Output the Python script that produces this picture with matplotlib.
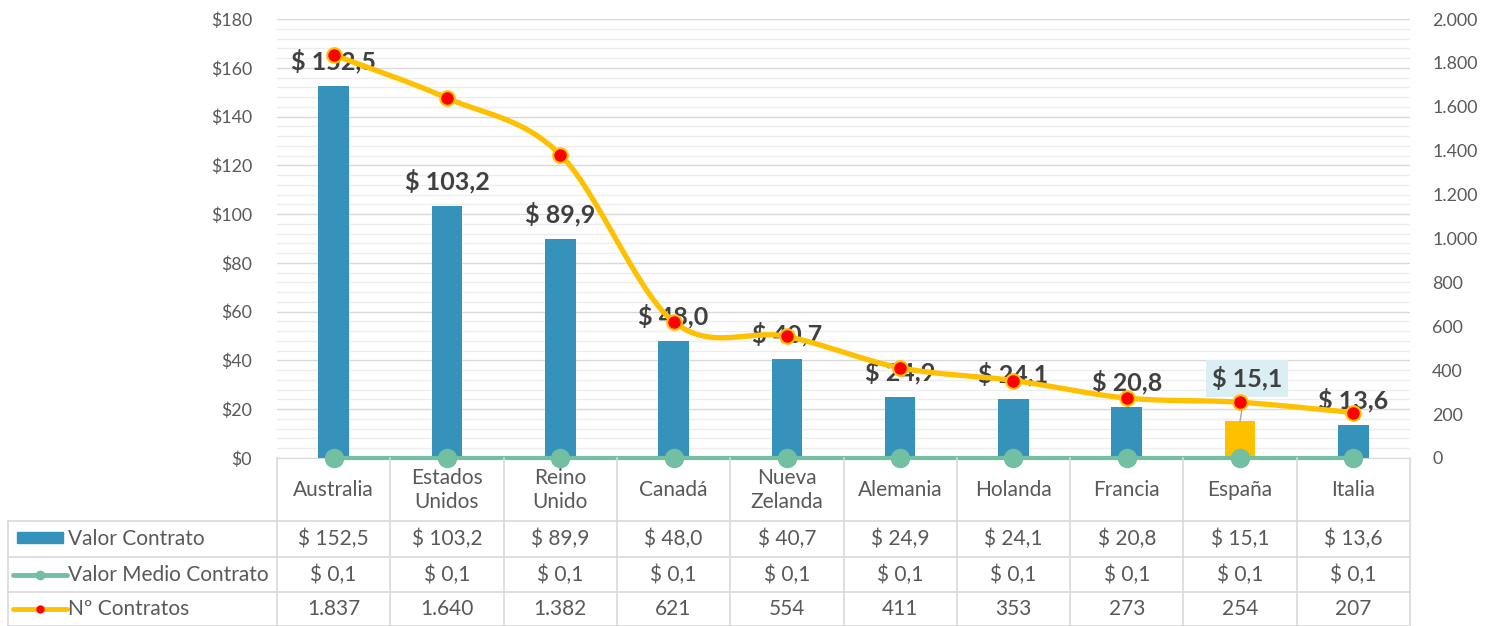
import numpy as np
import matplotlib
matplotlib.use("Agg")
import matplotlib.pyplot as plt
from matplotlib.patches import Rectangle

plt.rcParams['font.family'] = ['Lato', 'DejaVu Sans']

categories = ["Australia", "Estados\nUnidos", "Reino\nUnido", "Canadá", "Nueva\nZelanda",
              "Alemania", "Holanda", "Francia", "España", "Italia"]
valor_contrato = [152.5, 103.2, 89.9, 48.0, 40.7, 24.9, 24.1, 20.8, 15.1, 13.6]
valor_medio = [0.1, 0.1, 0.1, 0.1, 0.1, 0.1, 0.1, 0.1, 0.1, 0.1]
n_contratos = [1837, 1640, 1382, 621, 554, 411, 353, 273, 254, 207]
series_names = ["Valor Contrato", "Valor Medio Contrato", "Nº Contratos"]
highlight = "España"

BLUE = "#3592BB"
ORANGE = "#FFC000"
GREEN = "#72BFA2"
RED = "#FF0000"
GRID = "#D9D9D9"
MINOR = "#EDEDED"
TXT = "#595959"
LBL = "#404040"

W, H = 1491, 626
fig = plt.figure(figsize=(W / 100, H / 100), dpi=100)
L, R, T, B = 277, 1410, 19, 458
ax = fig.add_axes([L / W, 1 - B / H, (R - L) / W, (B - T) / H])
ax2 = ax.twinx()

n = len(categories)
x = np.arange(n)
colors = [ORANGE if c == highlight else BLUE for c in categories]
ax.bar(x, valor_contrato, width=0.27, color=colors, zorder=2)

ax.plot(x, valor_medio, color=GREEN, lw=3, marker='o', ms=13, mfc=GREEN, mec=GREEN,
        zorder=4, clip_on=False)

# data labels
for i, v in enumerate(valor_contrato):
    txt = "$ " + f"{v:.1f}".replace('.', ',')
    if categories[i] == highlight:
        ax.annotate(txt, (i, v), xytext=(5, 22), textcoords='offset points',
                    ha='center', va='bottom', fontsize=18, fontweight='bold', color=LBL,
                    bbox=dict(boxstyle='square,pad=0.25', fc='#DAEEF3', ec='none'),
                    arrowprops=dict(arrowstyle='-', color='#A6A6A6', lw=1,
                                    shrinkA=0, shrinkB=0), zorder=3)
    else:
        ax.annotate(txt, (i, v), xytext=(0, 9), textcoords='offset points',
                    ha='center', va='bottom', fontsize=18, fontweight='bold', color=LBL,
                    zorder=3)

ax.set_xlim(-0.5, n - 0.5)
ax.set_ylim(0, 180)
ax.set_yticks(np.arange(0, 181, 20))
ax.set_yticks(np.arange(0, 181, 4), minor=True)
ax.set_yticklabels([f"${int(t)}" for t in np.arange(0, 181, 20)])
ax.grid(axis='y', which='major', color=GRID, lw=1, zorder=0)
ax.grid(axis='y', which='minor', color=MINOR, lw=1, zorder=0)
ax.set_axisbelow(True)
ax.set_xticks([])
ax.tick_params(axis='y', which='both', length=0, pad=18, labelsize=12.8, labelcolor=TXT)
for s in ['top', 'left', 'right']:
    ax.spines[s].set_visible(False)
ax.spines['bottom'].set_color(GRID)

# smooth line (Catmull-Rom rendering between the data points)
xs = x.astype(float)
ys = np.array(n_contratos, dtype=float)
px, py = [], []
for i in range(n - 1):
    m0 = (ys[i + 1] - ys[i - 1]) / 2 if i > 0 else (ys[i + 1] - ys[i])
    m1 = (ys[i + 2] - ys[i]) / 2 if i < n - 2 else (ys[i + 1] - ys[i])
    t = np.linspace(0, 1, 30)
    h00 = 2 * t**3 - 3 * t**2 + 1
    h10 = t**3 - 2 * t**2 + t
    h01 = -2 * t**3 + 3 * t**2
    h11 = t**3 - t**2
    px.extend(xs[i] + t)
    py.extend(h00 * ys[i] + h10 * m0 + h01 * ys[i + 1] + h11 * m1)
ax2.plot(px, py, color=ORANGE, lw=3.8, solid_capstyle='round', zorder=3)
ax2.plot(xs, ys, ls='none', marker='o', ms=10.5, mfc=RED, mec=ORANGE, mew=1.5, zorder=4)
ax2.set_ylim(0, 2000)
ax2.set_yticks(np.arange(0, 2001, 200))
ax2.set_yticklabels([f"{int(t):,}".replace(',', '.') for t in np.arange(0, 2001, 200)])
ax2.tick_params(axis='y', length=0, pad=16, labelsize=12.8, labelcolor=TXT)
for s in ['top', 'left', 'right', 'bottom']:
    ax2.spines[s].set_visible(False)
ax2.set_xlim(-0.5, n - 0.5)

# data table drawn in pixel coordinates
ov = fig.add_axes([0, 0, 1, 1], facecolor='none')
ov.set_xlim(0, W)
ov.set_ylim(H, 0)
ov.axis('off')
colw = (R - L) / n
rows_y = [B, 521, 557, 592, 626]
for yy in rows_y[1:]:
    ov.plot([8, R], [yy, yy], color=GRID, lw=1.2)
ov.plot([8, 8], [521, 626], color=GRID, lw=1.2)
for k in range(n + 1):
    xx = L + colw * k
    ov.plot([xx, xx], [B, 626], color=GRID, lw=1.2)

FS = 15
for i in range(n):
    cx = L + colw * (i + 0.5)
    ov.text(cx, 490, categories[i], ha='center', va='center', fontsize=FS, color=TXT,
            linespacing=1.25)
    ov.text(cx, 539, "$ " + f"{valor_contrato[i]:.1f}".replace('.', ','), ha='center',
            va='center', fontsize=FS, color=TXT)
    ov.text(cx, 575, "$ " + f"{valor_medio[i]:.1f}".replace('.', ','), ha='center',
            va='center', fontsize=FS, color=TXT)
    ov.text(cx, 609, f"{n_contratos[i]:,}".replace(',', '.'), ha='center',
            va='center', fontsize=FS, color=TXT)

# legend keys in row headers
ov.add_patch(Rectangle((17, 532), 46, 11, color=BLUE))
ov.plot([13, 67], [575, 575], color=GREEN, lw=3.5, solid_capstyle='round')
ov.plot([40], [575], marker='o', ms=6, color=GREEN)
ov.plot([13, 67], [609, 609], color=ORANGE, lw=3.5, solid_capstyle='round')
ov.plot([40], [609], marker='o', ms=6, mfc=RED, mec=RED, mew=0)
for yy, name in zip([539, 575, 609], series_names):
    ov.text(68, yy, name, ha='left', va='center', fontsize=FS, color=TXT)

fig.savefig("out.png", dpi=100)
